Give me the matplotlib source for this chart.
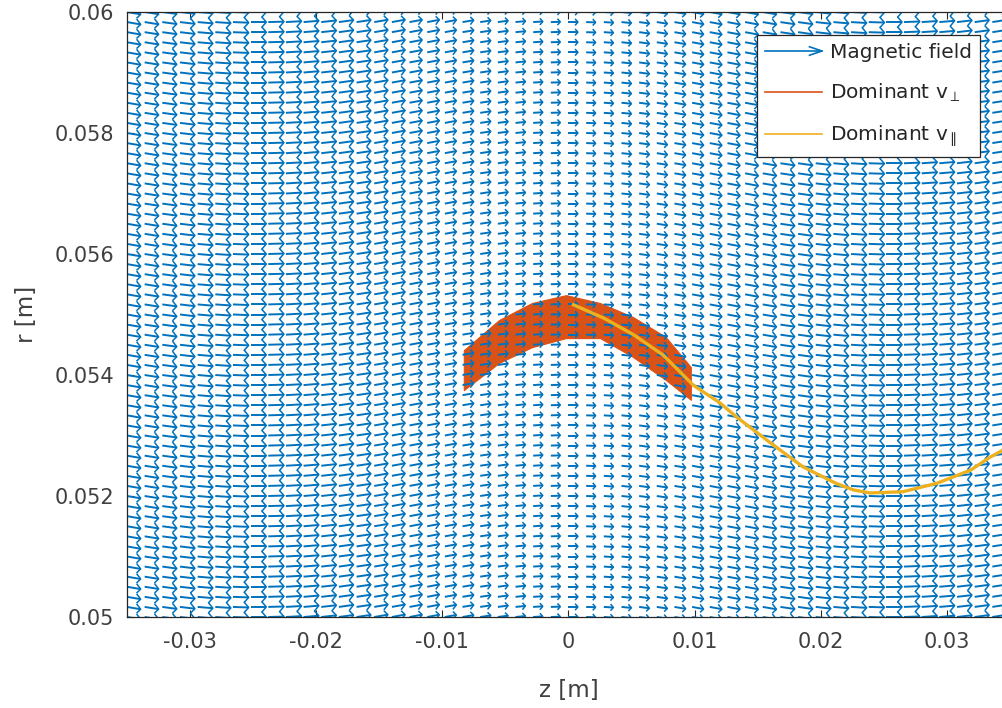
import numpy as np
import matplotlib.pyplot as plt
from matplotlib.collections import LineCollection
from matplotlib.lines import Line2D
from matplotlib.legend_handler import HandlerBase

plt.rcParams['font.family'] = ['DejaVu Sans']
plt.rcParams['axes.unicode_minus'] = False

# ---------------------------------------------------------
# data
# ---------------------------------------------------------
# field grid: 51 columns in z, 61 rows in r
z_grid = np.linspace(-0.035, 0.035, 51)
r_grid = np.linspace(0.05, 0.06, 61)

# axial field per column (relative), strongest under the trajectory troughs
bz_col = [0.87, 0.89, 0.92, 0.95, 0.97, 0.99, 1.00, 1.00, 1.00, 0.99,
          0.97, 0.96, 0.93, 0.91, 0.87, 0.84, 0.80, 0.77, 0.73, 0.71,
          0.67, 0.65, 0.63, 0.61, 0.60, 0.60, 0.60, 0.61, 0.63, 0.65,
          0.67, 0.71, 0.73, 0.77, 0.80, 0.84, 0.87, 0.91, 0.93, 0.96,
          0.97, 0.99, 1.00, 1.00, 1.00, 0.99, 0.97, 0.95, 0.92, 0.89,
          0.87]
# radial field per column (relative)
br_col = [-0.031, -0.029, -0.026, -0.023, -0.017, -0.014, -0.008, 0.0, 0.006, 0.012,
          0.017, 0.022, 0.027, 0.028, 0.031, 0.032, 0.031, 0.030, 0.028, 0.025,
          0.021, 0.018, 0.013, 0.008, 0.004, 0.0, -0.004, -0.008, -0.013, -0.018,
          -0.021, -0.025, -0.028, -0.030, -0.031, -0.032, -0.031, -0.028, -0.027, -0.022,
          -0.017, -0.012, -0.006, 0.0, 0.008, 0.014, 0.017, 0.023, 0.026, 0.029,
          0.031]

# dominant v_perp part of the orbit: envelope of the gyration band
perp_z = [-0.0083, -0.0055, -0.0029, -0.0002, 0.0025, 0.0051, 0.0077, 0.0097]
perp_r_top = [0.05441, 0.05491, 0.05519, 0.05532, 0.05519, 0.05496, 0.05463, 0.05413]
perp_r_bot = [0.05375, 0.05420, 0.05446, 0.05461, 0.05461, 0.05430, 0.05392, 0.05359]

# dominant v_par part of the orbit
par_z = [0.0004, 0.0028, 0.0052, 0.0075, 0.0099, 0.0120, 0.0133, 0.0160, 0.0186,
         0.0212, 0.0226, 0.0239, 0.0265, 0.0292, 0.0319, 0.0334, 0.0350]
par_r = [0.05516, 0.05494, 0.05466, 0.05433, 0.05383, 0.05354, 0.05331, 0.05288, 0.05248,
         0.05221, 0.05210, 0.05205, 0.05207, 0.05221, 0.05243, 0.05264, 0.05282]

x_ticks = [-0.03, -0.02, -0.01, 0, 0.01, 0.02, 0.03]
x_labels = ['-0.03', '-0.02', '-0.01', '0', '0.01', '0.02', '0.03']
y_ticks = [0.05, 0.052, 0.054, 0.056, 0.058, 0.06]
y_labels = ['0.05', '0.052', '0.054', '0.056', '0.058', '0.06']

BLUE = '#0072BD'
ORANGE = '#D95319'
YELLOW = '#EDB120'
DARK = '#262626'


class ArrowHandler(HandlerBase):
    # legend entry looking like a quiver arrow
    def create_artists(self, legend, orig_handle, xdescent, ydescent,
                       width, height, fontsize, trans):
        y = height / 2 - ydescent
        x0 = -xdescent
        x1 = x0 + width
        shaft = Line2D([x0, x1], [y, y], color=BLUE, lw=1.2, transform=trans)
        head = Line2D([x1 - 0.22 * width, x1, x1 - 0.22 * width],
                      [y + 0.3 * height, y, y - 0.3 * height],
                      color=BLUE, lw=1.2, transform=trans)
        return [shaft, head]


def quiver_segments(z, r, bz, br):
    # matlab-like quiver: autoscale + line arrowheads in data units
    Z, R = np.meshgrid(z, r)
    U = np.tile(bz, (len(r), 1))
    V = np.tile(br, (len(r), 1))
    delx = (z[-1] - z[0]) / len(z)
    dely = (r[-1] - r[0]) / len(r)
    lens = np.sqrt((U ** 2 + V ** 2) / (delx ** 2 + dely ** 2))
    s = 0.9 / lens.max()
    x, y = Z.ravel(), R.ravel()
    u, v = U.ravel() * s, V.ravel() * s
    a, b = 0.3, 0.24
    shafts = np.stack([np.column_stack([x, y]),
                       np.column_stack([x + u, y + v])], axis=1)
    heads = np.stack([np.column_stack([x + u - a * (u + b * v), y + v - a * (v - b * u)]),
                      np.column_stack([x + u, y + v]),
                      np.column_stack([x + u - a * (u - b * v), y + v - a * (v + b * u)])], axis=1)
    return list(shafts), list(heads)


def plot_orbit():
    fig = plt.figure(figsize=(10.03, 7.08), dpi=100)
    ax = fig.add_axes([127 / 1003, 1 - 617 / 708, 883 / 1003, 605 / 708])

    # magnetic field arrows
    shafts, heads = quiver_segments(z_grid, r_grid, np.array(bz_col), np.array(br_col))
    ax.add_collection(LineCollection(shafts, colors=BLUE, linewidths=1.4))
    ax.add_collection(LineCollection(heads, colors=BLUE, linewidths=1.1))

    # orbit
    ax.fill_between(perp_z, perp_r_bot, perp_r_top, color=ORANGE, lw=0.8,
                    edgecolor=ORANGE)
    ax.plot(par_z, par_r, color=YELLOW, lw=2.4)

    ax.set_xlim(-0.035, 0.035)
    ax.set_ylim(0.05, 0.06)
    ax.set_xticks(x_ticks)
    ax.set_xticklabels(x_labels)
    ax.set_yticks(y_ticks)
    ax.set_yticklabels(y_labels)
    ax.tick_params(direction='in', length=5, width=0.8, top=True, right=True,
                   labelsize=15, color=DARK, labelcolor='#404040')
    ax.tick_params(axis='x', pad=11)
    ax.tick_params(axis='y', pad=9)
    for sp in ax.spines.values():
        sp.set_color(DARK)
        sp.set_linewidth(0.9)

    ax.set_xlabel('z [m]', fontsize=16.5, color='#404040', va='center')
    ax.xaxis.set_label_coords(0.5, -0.1207)
    ax.set_ylabel('r [m]', fontsize=16.5, color='#404040', va='center')
    ax.yaxis.set_label_coords(-0.1133, 0.5)

    handles = [Line2D([], [], color=BLUE),
               Line2D([], [], color=ORANGE, lw=1.2),
               Line2D([], [], color=YELLOW, lw=1.2)]
    labels = ['Magnetic field', r'Dominant v$_{\perp}$', r'Dominant v$_{\parallel}$']
    leg = ax.legend(handles, labels, loc='upper right',
                    bbox_to_anchor=(980 / 1003, 1 - 35 / 708),
                    bbox_transform=fig.transFigure, borderaxespad=0,
                    fontsize=14.5, fancybox=False, framealpha=1,
                    edgecolor=DARK, handlelength=2.8, handletextpad=0.4,
                    labelspacing=0.97, borderpad=0.4,
                    handler_map={handles[0]: ArrowHandler()})
    leg.get_frame().set_linewidth(0.9)
    for t in leg.get_texts():
        t.set_color('#262626')

    fig.savefig('out.png', dpi=100)


if __name__ == "__main__":
    plot_orbit()
